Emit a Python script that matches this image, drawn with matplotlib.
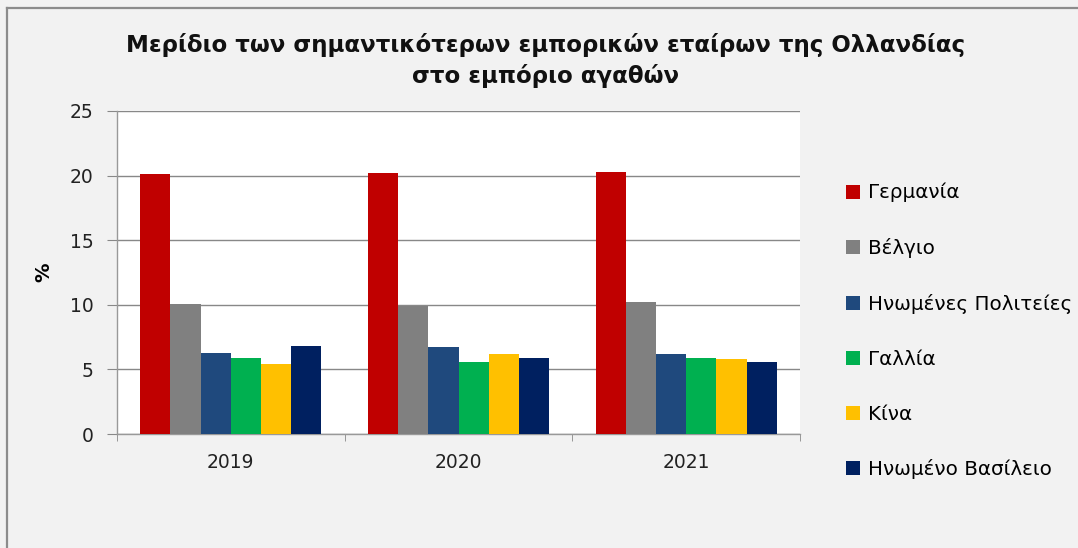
import matplotlib
matplotlib.use('Agg')
import matplotlib.pyplot as plt
import numpy as np
from matplotlib.lines import Line2D

years = ['2019', '2020', '2021']
countries = ['Γερμανία', 'Βέλγιο', 'Ηνωμένες Πολιτείες', 'Γαλλία', 'Κίνα', 'Ηνωμένο Βασίλειο']
germany = [20.1, 20.2, 20.3]
belgium = [10.1, 9.9, 10.2]
usa = [6.3, 6.7, 6.2]
france = [5.9, 5.6, 5.9]
china = [5.4, 6.2, 5.8]
uk = [6.8, 5.9, 5.6]
colors = ['#C00000', '#808080', '#1F497D', '#00B050', '#FFC000', '#002060']

series = [germany, belgium, usa, france, china, uk]

plt.rcParams['font.family'] = ['DejaVu Sans']
fig = plt.figure(figsize=(10.78, 5.48), dpi=100, facecolor='#F2F2F2')
ax = fig.add_axes([117/1078, 1-434/548, (800-117)/1078, (434-111)/548])
ax.set_facecolor('white')

x = np.arange(len(years))
w = 0.1326
for i, vals in enumerate(series):
    ax.bar(x + (i - 2.5) * w, vals, w, color=colors[i], label=countries[i], zorder=3)

ax.set_xlim(-0.5, 2.5)
ax.set_ylim(0, 25)
ax.set_yticks([0, 5, 10, 15, 20, 25])
ax.set_xticks(x)
ax.set_xticklabels(years)
ax.set_xticks([-0.5, 0.5, 1.5, 2.5], minor=True)
ax.tick_params(axis='x', which='major', length=0, pad=14, labelsize=13.5, labelcolor='#222222')
ax.tick_params(axis='x', which='minor', length=5, color='#888888', direction='out')
ax.tick_params(axis='y', length=7, color='#888888', labelsize=13.5, labelcolor='#222222', pad=10)
ax.grid(axis='y', color='#888888', linewidth=1, zorder=0)
for s in ['top', 'right']:
    ax.spines[s].set_visible(False)
for s in ['left', 'bottom']:
    ax.spines[s].set_color('#999999')
    ax.spines[s].set_linewidth(1)
ax.set_ylabel('%', fontsize=14, fontweight='bold')
ax.yaxis.set_label_coords((53-117)/683, 0.5)

fig.text(0.506, 1-45/548, 'Μερίδιο των σημαντικότερων εμπορικών εταίρων της Ολλανδίας',
         ha='center', va='center', fontsize=16.5, fontweight='bold', color='#111111')
fig.text(0.506, 1-76/548, 'στο εμπόριο αγαθών',
         ha='center', va='center', fontsize=16.5, fontweight='bold', color='#111111')

fig.legend(loc='upper left', bbox_to_anchor=(846/1078, 1-183/548), frameon=False,
           fontsize=14.3, handlelength=0.7, handleheight=0.7, handletextpad=0.4,
           labelspacing=1.80, borderpad=0, borderaxespad=0)

fig.add_artist(Line2D([7/1078, 1], [1-8/548, 1-8/548], color='#8C8C8C', linewidth=1.6))
fig.add_artist(Line2D([7/1078, 7/1078], [0, 1-8/548], color='#8C8C8C', linewidth=1.6))

fig.savefig('out.png', dpi=100, facecolor=fig.get_facecolor())
